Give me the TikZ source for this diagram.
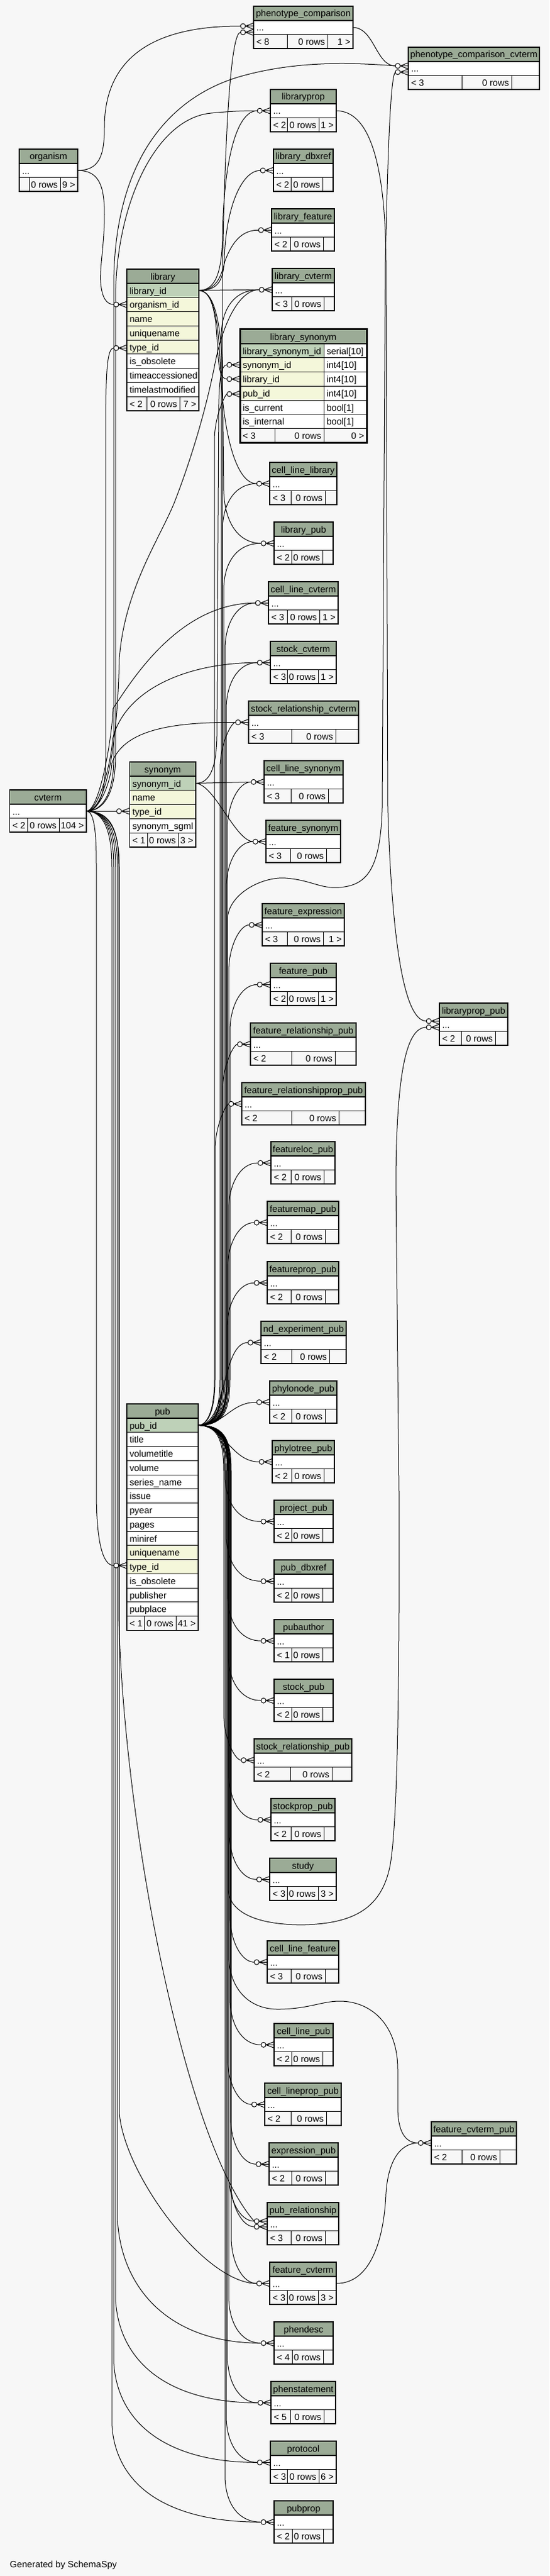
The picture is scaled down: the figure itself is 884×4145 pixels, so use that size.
\documentclass[tikz,border=0pt]{standalone}
\usepackage{fontspec}
\setmainfont{Liberation Sans}
\usetikzlibrary{calc}
\definecolor{bgc}{HTML}{F7F7F7}
\definecolor{hdrc}{HTML}{9BAB96}
\definecolor{pkc}{HTML}{BED1B8}
\definecolor{fkc}{HTML}{F4F7DA}
\definecolor{footc}{HTML}{F7F7F7}
\pgfdeclarelayer{bg}
\pgfdeclarelayer{edges}
\pgfsetlayers{bg,edges,main}
\tikzset{
 cellbox/.style={draw=black, line width=0.8pt, inner sep=0pt, outer sep=0pt, anchor=north west},
 txt/.style={inner sep=0pt, outer sep=0pt, font=\fontsize{14.67}{17}\selectfont, text=black},
 fkedge/.style={draw=black, line width=1pt},
 outerbox/.style={draw=black, line width=1.5pt},
 fkline/.style={draw=black, line width=1pt},
}
% crow's foot + open circle marker; #1 coordinate name, #2 table left x, #3 y
\newcommand{\myfk}[3]{%
 \coordinate (#1) at ({#2-21},{#3});
 \draw[fkline, fill=white] ({#2-17},{#3}) circle[radius=4pt];
 \draw[fkline] ({#2-13},{#3}) -- (#2,{#3-5}) ({#2-13},{#3}) -- (#2,{#3}) ({#2-13},{#3}) -- (#2,{#3+5});
}
% small table: name, title, x0, x1, top, div1, div2, left footer, right footer
\newcommand{\mystab}[9]{%
 \node[cellbox, fill=hdrc, minimum width={#4-#3}, minimum height=23] (#1) at (#3,#5) {};
 \node[txt, anchor=base] (#1-title) at ({(#3+#4)/2},{#5+17}) {#2};
 \node[cellbox, fill=white, minimum width={#4-#3}, minimum height=22.5] (#1-row) at (#3,{#5+23}) {};
 \node[txt, anchor=base west] (#1-dots) at ({#3+4.5},{#5+40}) {...};
 \node[cellbox, fill=footc, minimum width={#6-#3}, minimum height=22.5] (#1-fa) at (#3,{#5+45.5}) {};
 \node[cellbox, fill=footc, minimum width={#7-#6}, minimum height=22.5] (#1-fb) at (#6,{#5+45.5}) {};
 \node[cellbox, fill=footc, minimum width={#4-#7}, minimum height=22.5] (#1-fc) at (#7,{#5+45.5}) {};
 \node[txt, anchor=base west] (#1-fat) at ({#3+4.5},{#5+62.5}) {#8};
 \node[txt, anchor=base east] (#1-fbt) at ({#7-4},{#5+62.5}) {0 rows};
 \node[txt, anchor=base east] (#1-fct) at ({#4-4},{#5+62.5}) {#9};
 \draw[line width=1.6pt] (#3,{#5+23}) -- (#4,{#5+23});
 \draw[outerbox] (#3,#5) rectangle (#4,{#5+68});
 \coordinate (#1-out) at (#4,{#5+34.25});
}
\newcommand{\myctab}[9]{\mystab{#1}{#2}{#3}{#4}{#5}{#6}{#7}{#8}{#9}\myfk{#1-in}{#3}{#5+34.25}}
% big tables
\newcommand{\myhead}[5]{%
 \node[cellbox, fill=hdrc, minimum width={#4-#3}, minimum height=23] (#1) at (#3,#5) {};
 \node[txt, anchor=base] (#1-title) at ({(#3+#4)/2},{#5+17}) {#2};
}
\newcommand{\mytrow}[6]{%
 \node[cellbox, fill=#5, minimum width={#3-#2}, minimum height=22.75] (#1) at (#2,#4) {};
 \node[txt, anchor=base west] (#1-t) at ({#2+4.5},{#4+17}) {#6};
}
\newcommand{\mytrowb}[8]{%
 \node[cellbox, fill=#6, minimum width={#3-#2}, minimum height=22.75] (#1) at (#2,#5) {};
 \node[cellbox, fill=white, minimum width={#4-#3}, minimum height=22.75] (#1-ty) at (#3,#5) {};
 \node[txt, anchor=base west] (#1-t) at ({#2+4.5},{#5+17}) {#7};
 \node[txt, anchor=base west] (#1-tt) at ({#3+4.5},{#5+17}) {#8};
}
\newcommand{\mybfoot}[8]{%
 \node[cellbox, fill=footc, minimum width={#3-#2}, minimum height=22.75] (#1-fa) at (#2,#6) {};
 \node[cellbox, fill=footc, minimum width={#4-#3}, minimum height=22.75] (#1-fb) at (#3,#6) {};
 \node[cellbox, fill=footc, minimum width={#5-#4}, minimum height=22.75] (#1-fc) at (#4,#6) {};
 \node[txt, anchor=base west] (#1-fat) at ({#2+4.5},{#6+17}) {#7};
 \node[txt, anchor=base east] (#1-fbt) at ({#4-4},{#6+17}) {0 rows};
 \node[txt, anchor=base east] (#1-fct) at ({#5-4},{#6+17}) {#8};
}
\newcommand{\mypubup}[3]{\draw[fkedge] (pub-out) .. controls ({#2-14},2293.4) and (#2,2276) .. (#2,2220) -- (#2,{#3+75}) .. controls (#2,{#3+35}) and ({#2+18},{#3}) .. (#1);}
\newcommand{\mypubdown}[3]{\draw[fkedge] (pub-out) .. controls ({#2-14},2293.4) and (#2,2311) .. (#2,2367) -- (#2,{#3-75}) .. controls (#2,{#3-35}) and ({#2+18},{#3}) .. (#1);}

\begin{document}
\begin{tikzpicture}[x=1pt,y=-1pt]
\begin{pgfonlayer}{bg}
\fill[bgc] (0,0) rectangle (884,4145);
\end{pgfonlayer}
\useasboundingbox (0,0) rectangle (884,4145);

% ---------- small tables ----------
\mystab{phenotype_comparison}{phenotype\_comparison}{408}{568}{10}{462}{527}{< 8}{1 >}
\myfk{phenotype_comparison-in}{408}{42}
\myfk{phenotype_comparison-in2}{408}{52}
\mystab{phenotype_comparison_cvterm}{phenotype\_comparison\_cvterm}{657}{868}{76}{743}{823}{< 3}{}
\myfk{phenotype_comparison_cvterm-in}{657}{106}
\myfk{phenotype_comparison_cvterm-in2}{657}{116}
\myctab{libraryprop}{libraryprop}{435}{541}{144}{462}{513}{< 2}{1 >}
\myctab{library_dbxref}{library\_dbxref}{440}{536}{240}{468}{519}{< 2}{}
\myctab{library_feature}{library\_feature}{437}{538}{336}{467}{520}{< 2}{}
\myctab{library_cvterm}{library\_cvterm}{438}{538}{432}{469}{521}{< 3}{}
\myctab{cell_line_library}{cell\_line\_library}{434}{542}{744}{468}{523}{< 3}{}
\myctab{library_pub}{library\_pub}{441}{536}{840}{469}{519}{< 2}{}
\myctab{cell_line_cvterm}{cell\_line\_cvterm}{432}{544}{936}{462}{514}{< 3}{1 >}
\myctab{stock_cvterm}{stock\_cvterm}{435}{541}{1032}{462}{512}{< 3}{1 >}
\myctab{stock_relationship_cvterm}{stock\_relationship\_cvterm}{400}{577}{1128}{469}{540}{< 3}{}
\myctab{cell_line_synonym}{cell\_line\_synonym}{425}{552}{1224}{468}{528}{< 3}{}
\myctab{feature_synonym}{feature\_synonym}{428}{548}{1320}{467}{525}{< 3}{}
\myctab{feature_expression}{feature\_expression}{422}{554}{1454}{462}{520}{< 3}{1 >}
\myctab{feature_pub}{feature\_pub}{435}{541}{1550}{462}{512}{< 2}{1 >}
\myctab{feature_relationship_pub}{feature\_relationship\_pub}{403}{573}{1646}{469}{539}{< 2}{}
\myctab{feature_relationshipprop_pub}{feature\_relationshipprop\_pub}{389}{588}{1742}{469}{545}{< 2}{}
\myctab{featureloc_pub}{featureloc\_pub}{436}{539}{1837}{468}{521}{< 2}{}
\myctab{featuremap_pub}{featuremap\_pub}{430}{545}{1933}{468}{523}{< 2}{}
\myctab{featureprop_pub}{featureprop\_pub}{430}{545}{2030}{468}{523}{< 2}{}
\myctab{nd_experiment_pub}{nd\_experiment\_pub}{420}{557}{2126}{469}{530}{< 2}{}
\myctab{phylonode_pub}{phylonode\_pub}{434}{542}{2222}{469}{523}{< 2}{}
\myctab{phylotree_pub}{phylotree\_pub}{438}{538}{2318}{469}{521}{< 2}{}
\myctab{project_pub}{project\_pub}{441}{536}{2414}{469}{519}{< 2}{}
\myctab{pub_dbxref}{pub\_dbxref}{441}{536}{2510}{469}{519}{< 2}{}
\myctab{pubauthor}{pubauthor}{441}{536}{2606}{469}{519}{< 1}{}
\myctab{stock_pub}{stock\_pub}{441}{536}{2702}{469}{519}{< 2}{}
\myctab{stock_relationship_pub}{stock\_relationship\_pub}{409}{566}{2798}{467}{534}{< 2}{}
\myctab{stockprop_pub}{stockprop\_pub}{436}{539}{2894}{468}{521}{< 2}{}
\myctab{study}{study}{434}{541}{2990}{462}{512}{< 3}{3 >}
\myctab{cell_line_feature}{cell\_line\_feature}{430}{545}{3123}{468}{523}{< 3}{}
\myctab{cell_line_pub}{cell\_line\_pub}{441}{536}{3256}{469}{519}{< 2}{}
\myctab{cell_lineprop_pub}{cell\_lineprop\_pub}{426}{549}{3352}{468}{525}{< 2}{}
\myctab{expression_pub}{expression\_pub}{433}{544}{3448}{469}{523}{< 2}{}
\mystab{pub_relationship}{pub\_relationship}{430}{545}{3544}{468}{523}{< 3}{}
\myfk{pub_relationship-in}{430}{3574}
\myfk{pub_relationship-in2}{430}{3583}
\myctab{feature_cvterm}{feature\_cvterm}{434}{541}{3640}{462}{512}{< 3}{3 >}
\myctab{phendesc}{phendesc}{441}{536}{3736}{470}{520}{< 4}{}
\myctab{phenstatement}{phenstatement}{436}{540}{3832}{467}{521}{< 5}{}
\myctab{protocol}{protocol}{435}{541}{3928}{462}{513}{< 3}{6 >}
\myctab{pubprop}{pubprop}{441}{536}{4024}{470}{520}{< 2}{}
\mystab{libraryprop_pub}{libraryprop\_pub}{707}{817}{1614}{742}{797}{< 2}{}
\myfk{libraryprop_pub-in}{707}{1643}
\myfk{libraryprop_pub-in2}{707}{1653}
\myctab{feature_cvterm_pub}{feature\_cvterm\_pub}{694}{831}{3414}{743}{804}{< 2}{}
\mystab{organism}{organism}{31}{125}{240}{47}{97}{}{9 >}
\mystab{cvterm}{cvterm}{15.5}{139}{1271}{44}{95}{< 2}{104 >}

% ---------- library ----------
\myhead{library}{library}{204}{320}{433}
\mytrow{library-id}{204}{320}{456}{pkc}{library\_id}
\mytrow{library-org}{204}{320}{478.75}{fkc}{organism\_id}
\mytrow{library-name}{204}{320}{501.5}{fkc}{name}
\mytrow{library-uname}{204}{320}{524.25}{fkc}{uniquename}
\mytrow{library-type}{204}{320}{547}{fkc}{type\_id}
\mytrow{library-obs}{204}{320}{569.75}{white}{is\_obsolete}
\mytrow{library-acc}{204}{320}{592.5}{white}{timeaccessioned}
\mytrow{library-mod}{204}{320}{615.25}{white}{timelastmodified}
\mybfoot{library}{204}{236}{289}{320}{638}{< 2}{7 >}
\draw[line width=1.6pt] (204,456) -- (320,456);
\draw[outerbox] (204,433) rectangle (320,660.75);
\coordinate (library-out) at (320,467.4);
\myfk{lib-org}{204}{490}
\myfk{lib-type}{204}{560}

% ---------- library_synonym ----------
\myhead{library_synonym}{library\_synonym}{386}{590}{530}
\mytrowb{lsyn-id}{386}{521}{590}{553}{pkc}{library\_synonym\_id}{serial[10]}
\mytrowb{lsyn-s}{386}{521}{590}{575.75}{fkc}{synonym\_id}{int4[10]}
\mytrowb{lsyn-l}{386}{521}{590}{598.5}{fkc}{library\_id}{int4[10]}
\mytrowb{lsyn-p}{386}{521}{590}{621.25}{fkc}{pub\_id}{int4[10]}
\mytrowb{lsyn-c}{386}{521}{590}{644}{white}{is\_current}{bool[1]}
\mytrowb{lsyn-i}{386}{521}{590}{666.75}{white}{is\_internal}{bool[1]}
\mybfoot{library_synonym}{386}{442}{521}{590}{689.5}{< 3}{0 >}
\draw[line width=1.6pt] (386,553) -- (590,553);
\draw[line width=3pt] (386,529) rectangle (590,712.25);
\myfk{lsyn-syn}{386}{587.1}
\myfk{lsyn-lib}{386}{609.9}
\myfk{lsyn-pub}{386}{634}

% ---------- synonym ----------
\myhead{synonym}{synonym}{208.5}{315}{1226}
\mytrow{synonym-id}{208.5}{315}{1249}{pkc}{synonym\_id}
\mytrow{synonym-name}{208.5}{315}{1271.75}{fkc}{name}
\mytrow{synonym-type}{208.5}{315}{1294.5}{fkc}{type\_id}
\mytrow{synonym-sgml}{208.5}{315}{1317.25}{white}{synonym\_sgml}
\mybfoot{synonym}{208.5}{237}{287}{315}{1340}{< 1}{3 >}
\draw[line width=1.6pt] (208.5,1249) -- (315,1249);
\draw[outerbox] (208.5,1226) rectangle (315,1362.75);
\coordinate (synonym-out) at (315,1260.4);
\myfk{syn-type}{208.5}{1305.25}

% ---------- pub ----------
\myhead{pub}{pub}{204}{319}{2259}
\mytrow{pub-id}{204}{319}{2282}{pkc}{pub\_id}
\mytrow{pub-title}{204}{319}{2304.75}{white}{title}
\mytrow{pub-vt}{204}{319}{2327.5}{white}{volumetitle}
\mytrow{pub-vol}{204}{319}{2350.25}{white}{volume}
\mytrow{pub-sn}{204}{319}{2373}{white}{series\_name}
\mytrow{pub-issue}{204}{319}{2395.75}{white}{issue}
\mytrow{pub-py}{204}{319}{2418.5}{white}{pyear}
\mytrow{pub-pages}{204}{319}{2441.25}{white}{pages}
\mytrow{pub-mini}{204}{319}{2464}{white}{miniref}
\mytrow{pub-un}{204}{319}{2486.75}{fkc}{uniquename}
\mytrow{pub-type}{204}{319}{2509.5}{fkc}{type\_id}
\mytrow{pub-obs}{204}{319}{2532.25}{white}{is\_obsolete}
\mytrow{pub-publ}{204}{319}{2555}{white}{publisher}
\mytrow{pub-place}{204}{319}{2577.75}{white}{pubplace}
\mybfoot{pub}{204}{232.6}{283}{319}{2600.5}{< 1}{41 >}
\draw[line width=1.6pt] (204,2282) -- (319,2282);
\draw[outerbox] (204,2259) rectangle (319,2623.25);
\coordinate (pub-out) at (319,2293.4);
\myfk{pub-typein}{204}{2519}

\node[txt, anchor=base west] (gen) at (16,4131) {Generated by SchemaSpy};

% ---------- connectors ----------
\begin{pgfonlayer}{edges}
% organism
\draw[fkedge] (organism-out) .. controls (160,274.25) and (168,250) .. (168,205) .. controls (168,60) and (300,42) .. (phenotype_comparison-in);
\draw[fkedge] (organism-out) .. controls (160,274.25) and (168,300) .. (168,345) .. controls (168,395) and (160,430) .. (162,455) .. controls (164,480) and (172,490) .. (lib-org);
% phenotype_comparison -> phenotype_comparison_cvterm
\draw[fkedge] (phenotype_comparison-out) .. controls (602,44.25) and (605,106) .. (phenotype_comparison_cvterm-in);
% libraryprop -> libraryprop_pub
\draw[fkedge] (libraryprop-out) .. controls (592,178.25) and (620,255) .. (621,420) -- (624,1300) .. controls (630,1500) and (648,1643) .. (libraryprop_pub-in);
% feature_cvterm -> feature_cvterm_pub
\draw[fkedge] (feature_cvterm-out) .. controls (598,3674.25) and (618,3600) .. (621,3530) .. controls (625,3470) and (648,3448.25) .. (feature_cvterm_pub-in);
% library
\draw[fkedge] (library-out) -- (library_cvterm-in);
\draw[fkedge] (library-out) .. controls (350,467.4) and (357,430) .. (358,380) .. controls (360,260) and (380,178.25) .. (libraryprop-in);
\draw[fkedge] (library-out) .. controls (352,467.4) and (360,450) .. (361,415) .. controls (364,330) and (390,274.25) .. (library_dbxref-in);
\draw[fkedge] (library-out) .. controls (348,467.4) and (356,445) .. (362,420) .. controls (375,385) and (392,370.25) .. (library_feature-in);
\draw[fkedge] (library-out) .. controls (345,467.4) and (348,520) .. (350,560) .. controls (352,595) and (355,609.9) .. (lsyn-lib);
\draw[fkedge] (library-out) .. controls (345,467.4) and (352,520) .. (355,600) .. controls (360,700) and (380,778.25) .. (cell_line_library-in);
\draw[fkedge] (library-out) .. controls (345,467.4) and (356,520) .. (358,600) -- (360,790) .. controls (362,850) and (390,874.25) .. (library_pub-in);
% synonym
\draw[fkedge] (synonym-out) -- (cell_line_synonym-in);
\draw[fkedge] (synonym-out) .. controls (338,1260.4) and (348,1235) .. (349,1185) -- (352,650) .. controls (353,610) and (356,587.1) .. (lsyn-syn);
\draw[fkedge] (synonym-out) .. controls (345,1262) and (378,1352) .. (feature_synonym-in);
% cvterm upwards
\draw[fkedge] (cvterm-out) -- (syn-type);
\draw[fkedge] (cvterm-out) .. controls (158,1305.25) and (170,1280) .. (170,1220) -- (170,700) .. controls (170,600) and (172,560) .. (lib-type);
\draw[fkedge] (cvterm-out) .. controls (165,1305.25) and (186,1280) .. (186,1215) -- (186,480) .. controls (186,330) and (250,190) .. (340,182) .. controls (370,179) and (390,178.25) .. (libraryprop-in);
\draw[fkedge] (cvterm-out) .. controls (160,1305.25) and (183,1285) .. (183,1220) -- (183,460) .. controls (183,260) and (270,160) .. (380,125) .. controls (470,98) and (560,100) .. (phenotype_comparison_cvterm-in);
\draw[fkedge] (cvterm-out) .. controls (165,1305.25) and (188,1230) .. (192,1060) .. controls (200,950) and (255,870) .. (280,810) .. controls (315,720) and (335,640) .. (345,590) .. controls (358,520) and (385,466.25) .. (library_cvterm-in);
\draw[fkedge] (cvterm-out) .. controls (160,1305.25) and (180,1190) .. (182,1140) .. controls (215,1090) and (290,970.25) .. (cell_line_cvterm-in);
\draw[fkedge] (cvterm-out) .. controls (160,1305.25) and (180,1220) .. (181,1190) .. controls (200,1110) and (300,1066.25) .. (stock_cvterm-in);
\draw[fkedge] (cvterm-out) .. controls (160,1305.25) and (178,1260) .. (180,1228) .. controls (200,1170) and (290,1162.25) .. (stock_relationship_cvterm-in);
% cvterm downwards
\draw[fkedge] (cvterm-out) .. controls (150,1305.25) and (155,1330) .. (155,1390) -- (155,2400) .. controls (155,2480) and (165,2519) .. (pub-typein);
\draw[fkedge] (cvterm-out) .. controls (175,1305.25) and (191,1330) .. (191,1390) -- (191,2600) .. controls (200,2950) and (300,3450) .. (pub_relationship-in);
\draw[fkedge] (cvterm-out) .. controls (175,1305.25) and (192,1335) .. (192,1395) -- (192,3400) .. controls (200,3500) and (330,3674.25) .. (feature_cvterm-in);
\draw[fkedge] (cvterm-out) .. controls (172,1305.25) and (189,1335) .. (189,1395) -- (189,3570) .. controls (194,3680) and (270,3770.25) .. (phendesc-in);
\draw[fkedge] (cvterm-out) .. controls (170,1305.25) and (186,1335) .. (186,1395) -- (186,3700) .. controls (191,3800) and (270,3866.25) .. (phenstatement-in);
\draw[fkedge] (cvterm-out) .. controls (168,1305.25) and (183,1335) .. (183,1395) -- (183,3800) .. controls (188,3900) and (270,3962.25) .. (protocol-in);
\draw[fkedge] (cvterm-out) .. controls (166,1305.25) and (180,1335) .. (180,1395) -- (180,3900) .. controls (185,4000) and (270,4058.25) .. (pubprop-in);
% pub special routes
\draw[fkedge] (pub-out) .. controls (345,2293.4) and (358,2270) .. (358,2215) -- (358,440) .. controls (362,200) and (372,52) .. (phenotype_comparison-in2);
\draw[fkedge] (pub-out) .. controls (354,2293.4) and (366,2270) .. (366,2215) -- (366,1480) .. controls (366,1440) and (420,1410) .. (460,1413) .. controls (500,1416) and (515,1430) .. (545,1428) .. controls (590,1425) and (612,1400) .. (615,1300) -- (620,420) .. controls (624,250) and (628,125) .. (phenotype_comparison_cvterm-in2);
\draw[fkedge] (pub-out) .. controls (354,2293.4) and (367,2312) .. (367,2372) -- (367,3040) .. controls (369,3080) and (420,3098) .. (490,3097) .. controls (570,3095) and (615,3070) .. (628,3000) .. controls (640,2930) and (643,2700) .. (642,2400) -- (637,1900) .. controls (638,1720) and (655,1653) .. (libraryprop_pub-in2);
\draw[fkedge] (pub-out) .. controls (355,2293.4) and (368,2312) .. (368,2372) -- (368,3150) .. controls (370,3200) and (400,3234) .. (450,3233) .. controls (500,3232) and (520,3219) .. (550,3220) .. controls (600,3222) and (640,3260) .. (640,3330) -- (640,3390) .. controls (640,3430) and (652,3448.25) .. (feature_cvterm_pub-in);
\draw[fkedge] (pub-out) .. controls (366,2293.4) and (356,2160.25) .. (nd_experiment_pub-in);
\draw[fkedge] (pub-out) .. controls (362,2293.4) and (370,2256.25) .. (phylonode_pub-in);
\draw[fkedge] (pub-out) .. controls (360,2293.4) and (372,2352.25) .. (phylotree_pub-in);
% pub bundle upwards
\mypubup{library_cvterm-in}{356}{466.25}
\mypubup{lsyn-pub}{345}{634}
\mypubup{cell_line_library-in}{358}{778.25}
\mypubup{library_pub-in}{360}{874.25}
\mypubup{cell_line_cvterm-in}{362}{970.25}
\mypubup{stock_cvterm-in}{364}{1066.25}
\mypubup{stock_relationship_cvterm-in}{354}{1162.25}
\mypubup{cell_line_synonym-in}{366}{1258.25}
\mypubup{feature_synonym-in}{364}{1354.25}
\mypubup{feature_expression-in}{368}{1488.25}
\mypubup{feature_pub-in}{370}{1584.25}
\mypubup{feature_relationship_pub-in}{358}{1680.25}
\mypubup{feature_relationshipprop_pub-in}{346}{1776.25}
\mypubup{featureloc_pub-in}{368}{1871.25}
\mypubup{featuremap_pub-in}{366}{1967.25}
\mypubup{featureprop_pub-in}{365}{2064.25}
% pub bundle downwards
\mypubdown{project_pub-in}{362}{2448.25}
\mypubdown{pub_dbxref-in}{364}{2544.25}
\mypubdown{pubauthor-in}{366}{2640.25}
\mypubdown{stock_pub-in}{367}{2736.25}
\mypubdown{stock_relationship_pub-in}{360}{2832.25}
\mypubdown{stockprop_pub-in}{368}{2928.25}
\mypubdown{study-in}{369}{3024.25}
\mypubdown{cell_line_feature-in}{370}{3157.25}
\mypubdown{cell_line_pub-in}{370}{3290.25}
\mypubdown{cell_lineprop_pub-in}{366}{3386.25}
\mypubdown{expression_pub-in}{371}{3482.25}
\mypubdown{pub_relationship-in}{368}{3574}
\mypubdown{pub_relationship-in2}{371}{3583}
\mypubdown{feature_cvterm-in}{372}{3674.25}
\mypubdown{phendesc-in}{368}{3770.25}
\mypubdown{phenstatement-in}{366}{3866.25}
\mypubdown{protocol-in}{364}{3962.25}
\mypubdown{pubprop-in}{362}{4058.25}
\end{pgfonlayer}
\end{tikzpicture}
\end{document}
